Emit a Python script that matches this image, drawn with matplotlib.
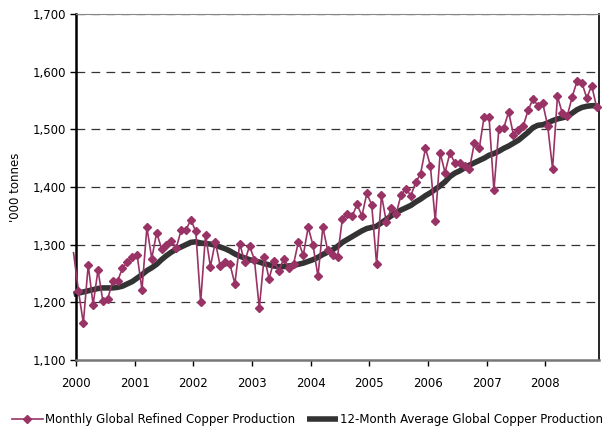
"""Monthly global refined copper production vs its 12-month average, 2000-2008."""
import matplotlib
matplotlib.use("Agg")
import matplotlib.pyplot as plt
from matplotlib.ticker import FuncFormatter

MAROON = "#993366"
DARK = "#333333"

# Dec 1999 .. Nov 2008, '000 tonnes
monthly = [1286,
           1220, 1164, 1265, 1196, 1256, 1202, 1206, 1237, 1237, 1259, 1270, 1278,
           1282, 1222, 1330, 1276, 1321, 1293, 1299, 1307, 1294, 1325, 1326, 1343,
           1323, 1200, 1317, 1262, 1305, 1263, 1270, 1266, 1232, 1302, 1270, 1298,
           1274, 1190, 1279, 1241, 1272, 1254, 1276, 1260, 1266, 1305, 1282, 1330,
           1299, 1245, 1330, 1290, 1282, 1279, 1345, 1353, 1349, 1370, 1350, 1389,
           1369, 1266, 1386, 1339, 1363, 1354, 1386, 1397, 1385, 1408, 1423, 1467,
           1437, 1341, 1459, 1425, 1459, 1442, 1442, 1437, 1432, 1476, 1467, 1522,
           1522, 1394, 1500, 1502, 1530, 1491, 1499, 1506, 1533, 1553, 1541, 1545,
           1506, 1432, 1557, 1528, 1523, 1556, 1583, 1581, 1554, 1576, 1539]
avg12 = [1214,
         1216, 1218, 1220, 1222, 1224, 1225, 1225, 1225, 1226, 1228, 1232, 1236,
         1242, 1248, 1255, 1260, 1266, 1274, 1281, 1287, 1292, 1296, 1300, 1304,
         1305, 1303, 1302, 1301, 1299, 1296, 1293, 1289, 1284, 1280, 1277, 1274,
         1272, 1270, 1267, 1265, 1263, 1262, 1262, 1263, 1264, 1266, 1268, 1271,
         1274, 1278, 1283, 1287, 1291, 1297, 1304, 1309, 1314, 1319, 1324, 1328,
         1330, 1332, 1338, 1344, 1350, 1356, 1360, 1364, 1368, 1374, 1379, 1385,
         1390, 1396, 1402, 1409, 1418, 1424, 1428, 1433, 1438, 1442, 1446, 1450,
         1455, 1458, 1462, 1467, 1471, 1476, 1481, 1488, 1495, 1503, 1507, 1508,
         1511, 1515, 1518, 1520, 1522, 1528, 1534, 1538, 1540, 1541, 1541]
years = list(range(2000, 2009))

x = [i - 0.5 for i in range(len(monthly))]   # month centres, Dec 1999 sits just left of the axis

fig = plt.figure(figsize=(6.15, 4.34), dpi=100)
ax = fig.add_axes([76 / 615, 1 - 360 / 434, 523 / 615, 346 / 434])

for v in range(1200, 1701, 100):
    ax.axhline(v, color=DARK, lw=0.9, dashes=(7, 5), zorder=1)

ax.plot(x, monthly, color=MAROON, lw=1.2, marker="D", ms=3.8,
        markevery=list(range(1, len(x))), clip_on=False, zorder=3,
        label="Monthly Global Refined Copper Production")
ax.plot(x, avg12, color=DARK, lw=4.0, solid_capstyle="butt", clip_on=False, zorder=2,
        label="12-Month Average Global Copper Production")

ax.set_xlim(0, 107)
ax.set_ylim(1100, 1700)
ax.set_xticks([12 * k for k in range(len(years))])
ax.set_xticklabels([str(y) for y in years])
ax.set_yticks(range(1100, 1701, 100))
ax.yaxis.set_major_formatter(FuncFormatter(lambda v, p: f"{int(v):,}"))
ax.tick_params(direction="out", length=4, width=1, labelsize=8.5, colors="black")
ax.tick_params(axis="x", pad=8)
ax.tick_params(axis="y", pad=3)

ax.spines["left"].set_linewidth(1.8)
ax.spines["left"].set_color("black")
ax.spines["bottom"].set_linewidth(1.8)
ax.spines["bottom"].set_color("#777777")
ax.spines["top"].set_color("#888888")
ax.spines["right"].set_color("black")
ax.spines["right"].set_linewidth(1.2)

ax.set_ylabel("'000 tonnes", fontsize=8.5, labelpad=8)

fig.legend(loc="lower center", bbox_to_anchor=(0.5, 0.0), ncol=2, frameon=False,
           fontsize=8.5, handlelength=2.6, handletextpad=0.2, columnspacing=1.0,
           borderaxespad=0.3)

fig.savefig("out.png", dpi=100)
